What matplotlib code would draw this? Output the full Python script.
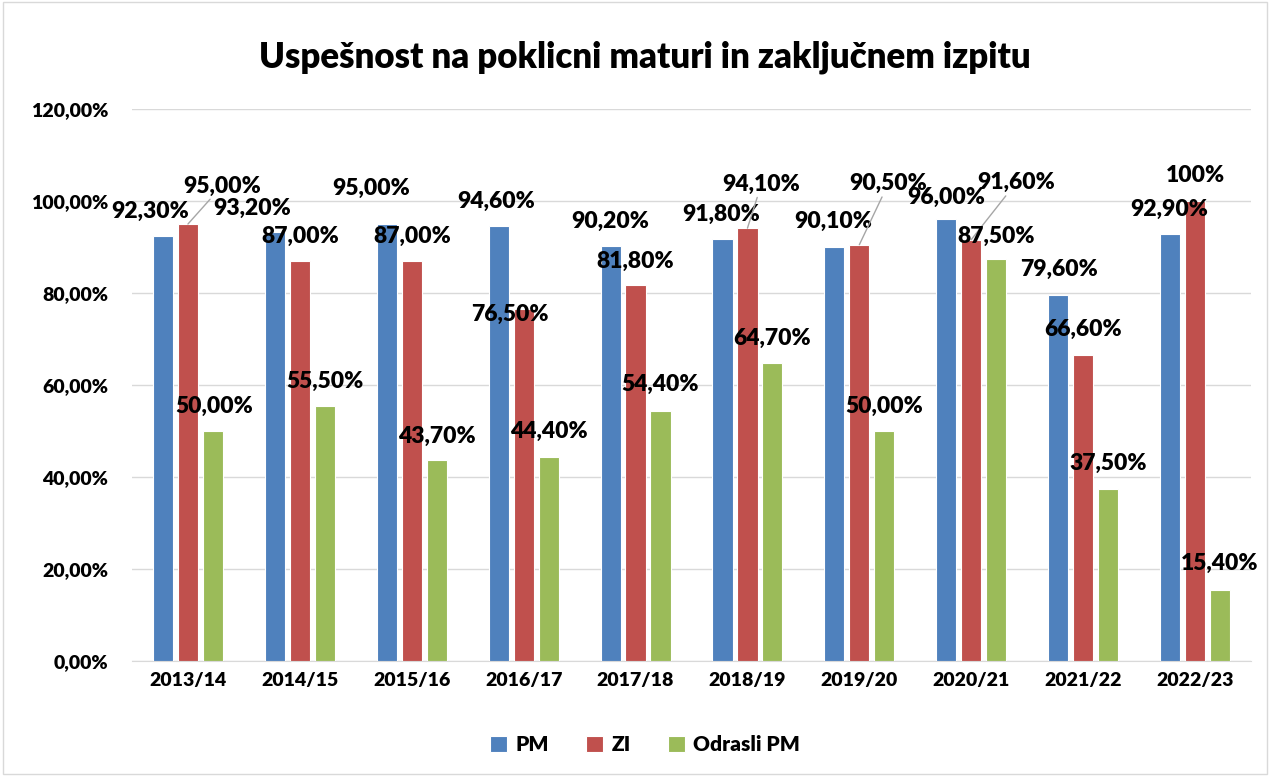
import numpy as np
import matplotlib
matplotlib.use('Agg')
import matplotlib.pyplot as plt
import matplotlib.ticker as mticker
from matplotlib.patches import Rectangle

plt.rcParams['font.family'] = ['Lato', 'DejaVu Sans']
plt.rcParams['font.weight'] = 'bold'

# podatki
years = ['2013/14', '2014/15', '2015/16', '2016/17', '2017/18',
         '2018/19', '2019/20', '2020/21', '2021/22', '2022/23']
pm = [92.3, 93.2, 95.0, 94.6, 90.2, 91.8, 90.1, 96.0, 79.6, 92.9]
zi = [95.0, 87.0, 87.0, 76.5, 81.8, 94.1, 90.5, 91.6, 66.6, 100.0]
odrasli = [50.0, 55.5, 43.7, 44.4, 54.4, 64.7, 50.0, 87.5, 37.5, 15.4]
series_names = ['PM', 'ZI', 'Odrasli PM']
colors = ['#4F81BD', '#C0504D', '#9BBB59']

# zamiki oznak v pikslih (dx, dy) - kot v izvirniku
offs_pm = [(-13, 25), (-23, 24), (-16, 36), (-3, 24), (0, 25),
           (-1, 24), (-1, 25), (0, 22), (1, 25), (-1, 24)]
offs_zi = [(34, 38), (0, 24), (0, 24), (-14, -5), (0, 23),
           (14, 44), (29, 61), (45, 57), (0, 25), (0, 25)]
offs_od = [(1, 25), (0, 24), (0, 24), (0, 25), (0, 26),
           (0, 25), (0, 25), (0, 22), (0, 25), (0, 27)]
leader = [0, 5, 6, 7]


def fmt_label(v):
    if v == 100:
        return '100%'
    return f'{v:.2f}%'.replace('.', ',')


fig = plt.figure(figsize=(12.7, 7.76), dpi=100)
ax = fig.add_axes([132 / 1270, 1 - 661 / 776, 1119 / 1270, 552 / 776])

x = np.arange(len(years))
w = 0.18
shift = 0.223
all_vals = [pm, zi, odrasli]
all_offs = [offs_pm, offs_zi, offs_od]
for k in range(3):
    pos = x + (k - 1) * shift
    ax.bar(pos, all_vals[k], width=w, color=colors[k], edgecolor='white',
           linewidth=0.8, label=series_names[k], zorder=3)
    for i, v in enumerate(all_vals[k]):
        dx, dy = all_offs[k][i]
        kw = {}
        if k == 1 and i in leader:
            kw['arrowprops'] = dict(arrowstyle='-', color='#a6a6a6', lw=1,
                                    shrinkA=0, shrinkB=0)
        ax.annotate(fmt_label(v), xy=(pos[i], v), xytext=(dx, dy),
                    textcoords='offset pixels', ha='center', va='center',
                    fontsize=16.5, fontweight='heavy', color='black', zorder=5, **kw)

ax.set_xlim(-0.5, len(years) - 0.5)
ax.set_ylim(0, 120)
ax.set_yticks(np.arange(0, 121, 20))
ax.yaxis.set_major_formatter(mticker.FuncFormatter(lambda v, p: f'{v:.2f}%'.replace('.', ',')))
ax.set_xticks(x)
ax.set_xticklabels(years)
ax.tick_params(axis='both', length=0, labelsize=14)
ax.tick_params(axis='y', pad=17)
ax.tick_params(axis='x', pad=8)
for lab in ax.get_xticklabels() + ax.get_yticklabels():
    lab.set_fontweight('heavy')
ax.grid(axis='y', color='#d9d9d9', linewidth=1, zorder=0)
for s in ['top', 'right', 'left']:
    ax.spines[s].set_visible(False)
ax.spines['bottom'].set_color('#d9d9d9')

fig.text(0.508, 0.926, 'Uspešnost na poklicni maturi in zaključnem izpitu',
         ha='center', va='center', fontsize=25, fontweight='heavy')

leg = fig.legend(loc='center', bbox_to_anchor=(0.508, 0.04), ncol=3, frameon=False,
                 fontsize=15, handlelength=0.8, handleheight=0.8, columnspacing=1.8,
                 handletextpad=0.4)
for t in leg.get_texts():
    t.set_fontweight('heavy')

fig.patches.append(Rectangle((0.002, 0.002), 0.996, 0.996, transform=fig.transFigure,
                             fill=False, edgecolor='#d9d9d9', linewidth=1))

plt.savefig('out.png', dpi=100)
plt.close()
